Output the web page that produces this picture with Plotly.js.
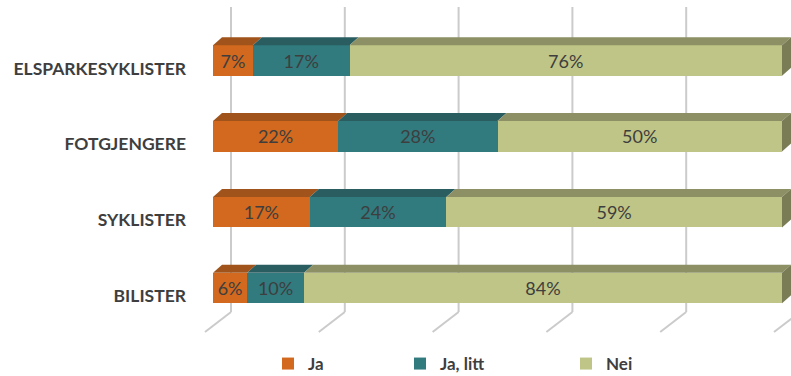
<!DOCTYPE html>
<html>
<head>
<meta charset="utf-8">
<script src="https://cdn.plot.ly/plotly-3.0.1.min.js"></script>
<style>
  html, body { margin: 0; padding: 0; background: #ffffff; }
  #chart { width: 791px; height: 376px; }
</style>
</head>
<body>
<div id="chart"></div>
<script>
// Categories from bottom to top (y = 0, 1, 2, 3)
const categories = ['BILISTER', 'SYKLISTER', 'FOTGJENGERE', 'ELSPARKESYKLISTER'];
const seriesNames = ['Ja', 'Ja, litt', 'Nei'];
// Share of answers per group, percent
const ja     = [6, 17, 22, 7];
const jaLitt = [10, 24, 28, 17];
const nei    = [84, 59, 50, 76];
const gridTicks = [0, 20, 40, 60, 80, 100];

// Colours: front face, top face, side face
const frontColors = ['#D2691F', '#317A7E', '#BFC586'];
const topColors   = ['#A0531A', '#2A5D60', '#8D9065'];
const sideColor   = '#797C54';
const textColor   = '#3E3E3E';
const font = 'Lato, "Open Sans", sans-serif';

// Plot geometry (pixels)
const W = 791, H = 376;
const ML = 190;                       // left margin for the category axis
const PXX = 5.69;                     // pixels per percent
const X_ZERO_PX = 213;                // where 0 % sits on the bar fronts
const PXY = 75.83;                    // pixels per category step
const Y_TOP_CAT_PX = 60.5;            // centre of the top bar
const xRange = [-(X_ZERO_PX - ML) / PXX, -(X_ZERO_PX - ML) / PXX + (W - ML) / PXX];
const yRange = [3 - (H - Y_TOP_CAT_PX) / PXY, 3 + Y_TOP_CAT_PX / PXY];
const BAR_W = 30.5 / PXY;
// oblique depth of the bars
const DX = 9 / PXX, DY = 8 / PXY;
// pixel helpers for the back wall / floor
const yOfPx = p => yRange[1] - p / PXY;
const BACK_OFF = (231 - X_ZERO_PX) / PXX;
const FRONT_OFF = (205 - X_ZERO_PX) / PXX;

const series = [ja, jaLitt, nei];
const traces = series.map((vals, k) => ({
  type: 'bar',
  orientation: 'h',
  name: seriesNames[k],
  legend: k === 0 ? 'legend' : 'legend' + (k + 1),
  y: categories.map((_, i) => i),
  x: vals,
  width: BAR_W,
  marker: { color: frontColors[k], line: { width: 0 } },
  texttemplate: '%{x}%',
  textposition: 'inside',
  insidetextanchor: 'middle',
  textangle: 0,
  constraintext: 'none',
  textfont: { family: font, size: 18, color: textColor },
  hoverinfo: 'skip'
}));

const shapes = [];
// back wall grid lines and slanted floor lines
gridTicks.forEach(g => {
  const line = { color: '#CBCBCB', width: 2 };
  shapes.push({ type: 'line', layer: 'below', xref: 'x', yref: 'y',
    x0: g + BACK_OFF, x1: g + BACK_OFF, y0: yOfPx(7), y1: yOfPx(312), line });
  shapes.push({ type: 'line', layer: 'below', xref: 'x', yref: 'y',
    x0: g + FRONT_OFF, x1: g + BACK_OFF, y0: yOfPx(332), y1: yOfPx(312), line });
});
// top and side faces of every stacked segment
categories.forEach((_, i) => {
  const yt = i + BAR_W / 2, yb = i - BAR_W / 2;
  let start = 0;
  series.forEach((vals, k) => {
    const a = start, b = start + vals[i];
    shapes.push({ type: 'path', layer: 'above', xref: 'x', yref: 'y',
      path: `M${a},${yt} L${a + DX},${yt + DY} L${b + DX},${yt + DY} L${b},${yt} Z`,
      fillcolor: topColors[k], line: { width: 0 } });
    start = b;
  });
  shapes.push({ type: 'path', layer: 'above', xref: 'x', yref: 'y',
    path: `M${start},${yb} L${start},${yt} L${start + DX},${yt + DY} L${start + DX},${yb + DY} Z`,
    fillcolor: sideColor, line: { width: 0 } });
});

// one legend per entry so each keeps its own position
const legendX = [268, 400, 566];
const legendBase = px => ({
  orientation: 'h', x: (px - ML) / (W - ML), xanchor: 'left',
  y: 1 - 364 / H, yanchor: 'middle', bgcolor: 'rgba(0,0,0,0)',
  font: { family: font, size: 17, color: textColor, weight: 'bold' }
});

const layout = {
  width: W, height: H,
  margin: { l: ML, r: 0, t: 0, b: 0, autoexpand: false },
  paper_bgcolor: '#ffffff', plot_bgcolor: '#ffffff',
  barmode: 'stack',
  showlegend: true,
  legend: legendBase(legendX[0]),
  legend2: legendBase(legendX[1]),
  legend3: legendBase(legendX[2]),
  xaxis: { range: xRange, showgrid: false, zeroline: false, showline: false,
    showticklabels: false, fixedrange: true },
  yaxis: { range: yRange, showgrid: false, zeroline: false, showline: false,
    tickvals: categories.map((_, i) => i), ticktext: categories,
    ticks: '', ticklabelshift: 8, ticklabelstandoff: 3,
    tickfont: { family: font, size: 17.5, color: textColor, weight: 'bold' }, fixedrange: true },
  shapes
};

Plotly.newPlot('chart', traces, layout, { displayModeBar: false, staticPlot: true });
</script>
</body>
</html>
